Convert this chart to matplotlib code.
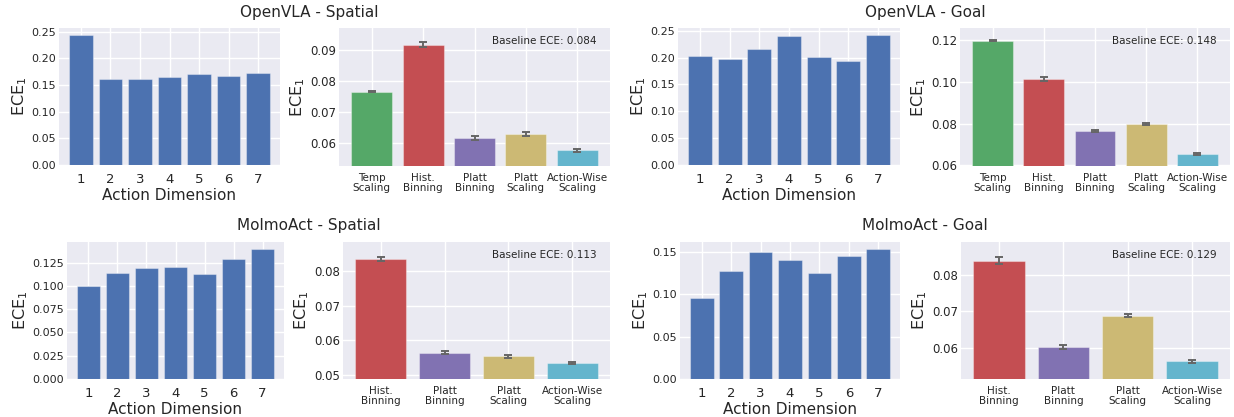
import matplotlib
matplotlib.use("Agg")
import matplotlib.pyplot as plt
import numpy as np

# ---------------- data ----------------
dims = [1, 2, 3, 4, 5, 6, 7]

openvla_spatial_dims = [0.245, 0.161, 0.161, 0.166, 0.171, 0.167, 0.173]
openvla_goal_dims = [0.203, 0.198, 0.216, 0.240, 0.202, 0.193, 0.243]
molmo_spatial_dims = [0.0993, 0.1136, 0.1186, 0.1207, 0.1125, 0.1286, 0.1400]
molmo_goal_dims = [0.0960, 0.1278, 0.1504, 0.1407, 0.1251, 0.1457, 0.1543]

methods5 = ["Temp\nScaling", "Hist.\nBinning", "Platt\nBinning", "Platt\nScaling", "Action-Wise\nScaling"]
methods4 = ["Hist.\nBinning", "Platt\nBinning", "Platt\nScaling", "Action-Wise\nScaling"]

openvla_spatial_ece = [0.0765, 0.0917, 0.0615, 0.0629, 0.0576]
openvla_spatial_err = [0.0002, 0.0008, 0.0006, 0.0006, 0.0005]
openvla_goal_ece = [0.1197, 0.1013, 0.0763, 0.0800, 0.0653]
openvla_goal_err = [0.0002, 0.0009, 0.0005, 0.0005, 0.0005]
molmo_spatial_ece = [0.0835, 0.0565, 0.0554, 0.0535]
molmo_spatial_err = [0.0007, 0.0004, 0.0005, 0.0004]
molmo_goal_ece = [0.0838, 0.0601, 0.0687, 0.0563]
molmo_goal_err = [0.0009, 0.0005, 0.0004, 0.0004]

baseline = {"os": 0.084, "og": 0.148, "ms": 0.113, "mg": 0.129}
titles = ["OpenVLA - Spatial", "OpenVLA - Goal", "MolmoAct - Spatial", "MolmoAct - Goal"]

# ---------------- style ----------------
BG = "#EAEAF2"
TXT = "#262626"
BLUE = "#4C72B0"
colors5 = ["#55A868", "#C44E52", "#8172B2", "#CCB974", "#64B5CD"]
colors4 = colors5[1:]
EDGE = (1, 1, 1, 0.35)

plt.rcParams.update({
    "font.family": "DejaVu Sans",
    "axes.facecolor": BG,
    "axes.edgecolor": "white",
    "axes.grid": True,
    "grid.color": "white",
    "grid.linewidth": 1.0,
    "axes.axisbelow": True,
    "text.color": TXT,
    "axes.labelcolor": TXT,
    "xtick.color": TXT,
    "ytick.color": TXT,
    "xtick.major.size": 0,
    "ytick.major.size": 0,
})

W, H = 1234, 417
fig = plt.figure(figsize=(W / 100, H / 100), dpi=100)
fig.patch.set_facecolor("white")


def ax_at(x0, y0, x1, y1):
    a = fig.add_axes([x0 / W, 1 - y1 / H, (x1 - x0) / W, (y1 - y0) / H])
    for s in a.spines.values():
        s.set_visible(False)
    return a


def dim_panel(a, vals):
    a.bar(dims, vals, width=0.8, color=BLUE, edgecolor=EDGE, linewidth=0.8)
    a.set_xticks(dims)
    a.set_xlabel("Action Dimension", fontsize=11, labelpad=1)
    a.set_ylabel("ECE$_1$", fontsize=11.5, labelpad=2)
    a.tick_params(axis="x", labelsize=9.5, pad=6)
    a.tick_params(axis="y", labelsize=8, pad=2)


def method_panel(a, labels, vals, errs, cols, base):
    x = np.arange(len(labels))
    a.bar(x, vals, width=0.8, color=cols, edgecolor=EDGE, linewidth=0.8,
          yerr=errs, capsize=3,
          error_kw=dict(ecolor="#666666", elinewidth=1.4, capthick=1.4))
    v = np.array(vals)
    e = np.array(errs)
    a.set_ylim((v - e).min() * 0.92, (v + e).max() * 1.05)
    a.set_xticks(x)
    a.set_xticklabels(labels, fontsize=7.5, linespacing=1.05)
    a.set_ylabel("ECE$_1$", fontsize=11.5, labelpad=2)
    a.tick_params(axis="y", labelsize=8.5, pad=2)
    a.tick_params(axis="x", pad=5)
    a.text(0.95, 0.94, f"Baseline ECE: {base:.3f}", transform=a.transAxes,
           ha="right", va="top", fontsize=7.5, color=TXT)


# top row
a1 = ax_at(59, 28, 280, 165)
dim_panel(a1, openvla_spatial_dims)
a2 = ax_at(339, 28, 610, 166)
method_panel(a2, methods5, openvla_spatial_ece, openvla_spatial_err, colors5, baseline["os"])
a3 = ax_at(678, 28, 900, 165)
dim_panel(a3, openvla_goal_dims)
a4 = ax_at(960, 28, 1230, 166)
method_panel(a4, methods5, openvla_goal_ece, openvla_goal_err, colors5, baseline["og"])

# bottom row
a5 = ax_at(67, 242, 284, 379)
dim_panel(a5, molmo_spatial_dims)
a6 = ax_at(343, 242, 610, 379)
method_panel(a6, methods4, molmo_spatial_ece, molmo_spatial_err, colors4, baseline["ms"])
a7 = ax_at(680, 242, 900, 379)
dim_panel(a7, molmo_goal_dims)
a8 = ax_at(961, 242, 1230, 379)
method_panel(a8, methods4, molmo_goal_ece, molmo_goal_err, colors4, baseline["mg"])

# group titles
fig.text(309 / W, 1 - 12 / H, titles[0], ha="center", va="center", fontsize=11, color=TXT)
fig.text(925 / W, 1 - 12 / H, titles[1], ha="center", va="center", fontsize=11, color=TXT)
fig.text(309 / W, 1 - 226 / H, titles[2], ha="center", va="center", fontsize=11, color=TXT)
fig.text(925 / W, 1 - 226 / H, titles[3], ha="center", va="center", fontsize=11, color=TXT)

fig.savefig("out.png", dpi=100, facecolor="white")
